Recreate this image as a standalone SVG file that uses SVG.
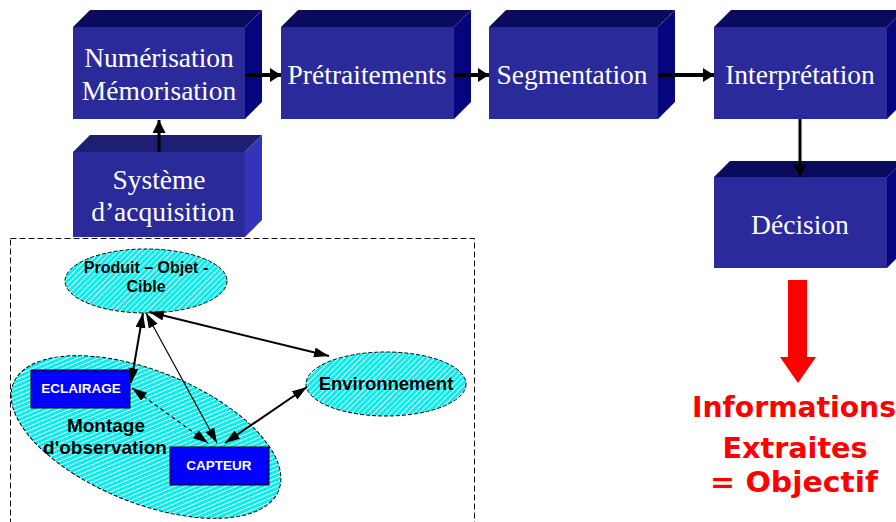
<svg xmlns="http://www.w3.org/2000/svg" width="896" height="522" viewBox="0 0 896 522">
<style>
.front{fill:#2a2a9a}
.top{fill:#0b0b5e}
.side{fill:#05057e}
.top2{fill:#1e1e72}
.side2{fill:#3434b8}
.bt{font-family:"Liberation Serif","Times New Roman",serif;font-size:27.5px;fill:#ffffff;text-anchor:middle}
.lbl{font-family:"Liberation Sans",Arial,sans-serif;font-weight:bold;text-anchor:middle;fill:#000}
.wl{font-family:"Liberation Sans",Arial,sans-serif;font-weight:bold;text-anchor:middle;fill:#fff;font-size:13.5px}
.hat{fill:url(#hatch);stroke:#000;stroke-width:1;stroke-dasharray:4 2}
.flow{stroke:#000;stroke-width:4;fill:none;marker-end:url(#hb)}
.vflow{stroke:#000;stroke-width:3;fill:none;marker-end:url(#hv)}
.c{stroke:#000;fill:none;marker-start:url(#ah);marker-end:url(#ah)}
.red{font-family:"Comic Sans MS","DejaVu Sans",sans-serif;font-weight:bold;fill:#ff0000;text-anchor:middle;font-size:28px}
</style>
<defs>
<pattern id="hatch" width="4" height="4" patternUnits="userSpaceOnUse" patternTransform="rotate(45)">
<rect width="4" height="4" fill="#00f0f0"/>
<line x1="0" y1="0" x2="0" y2="4" stroke="#ffffff" stroke-width="2"/>
</pattern>
<marker id="hb" markerUnits="userSpaceOnUse" markerWidth="12" markerHeight="14" refX="11" refY="7" orient="auto">
<path d="M0,0 L11,7 L0,14 z" fill="#000"/>
</marker>
<marker id="hv" markerUnits="userSpaceOnUse" markerWidth="14" markerHeight="14" refX="13" refY="6.5" orient="auto">
<path d="M0,0 L13,6.5 L0,13 z" fill="#000"/>
</marker>
<marker id="ah" markerUnits="userSpaceOnUse" markerWidth="16" markerHeight="12" refX="15" refY="5" orient="auto-start-reverse">
<path d="M0,0 L15,5 L0,10 z" fill="#000"/>
</marker>
</defs>
<rect width="896" height="522" fill="#ffffff"/>

<g id="numerisation">
<rect class="front" x="73" y="27" width="172" height="92"/>
<polygon class="top" points="73,27 90,10 262,10 245,27"/>
<polygon class="side" points="245,27 262,10 262,102 245,119"/>
<text class="bt" x="159" y="67">Numérisation</text>
<text class="bt" x="159" y="100">Mémorisation</text>
</g>
<g id="pretraitements">
<rect class="front" x="281" y="27" width="173" height="92"/>
<polygon class="top" points="281,27 298,10 471,10 454,27"/>
<polygon class="side" points="454,27 471,10 471,102 454,119"/>
<text class="bt" x="367" y="84">Prétraitements</text>
</g>
<g id="segmentation">
<rect class="front" x="489" y="27" width="169" height="92"/>
<polygon class="top" points="489,27 506,10 675,10 658,27"/>
<polygon class="side" points="658,27 675,10 675,102 658,119"/>
<text class="bt" x="572" y="84">Segmentation</text>
</g>
<g id="interpretation">
<rect class="front" x="714" y="27" width="173" height="92"/>
<polygon class="top" points="714,27 731,10 904,10 887,27"/>
<polygon class="side" points="887,27 904,10 904,102 887,119"/>
<text class="bt" x="800" y="84">Interprétation</text>
</g>
<g id="decision">
<rect class="front" x="714" y="177" width="173" height="91"/>
<polygon class="top" points="714,177 730,161 904,161 887,177"/>
<polygon class="side" points="887,177 904,161 904,251 887,268"/>
<text class="bt" x="800" y="234">Décision</text>
</g>
<g id="systeme">
<rect class="front" x="73" y="152" width="172" height="85"/>
<polygon class="top2" points="73,152 90,135 262,135 245,152"/>
<polygon class="side2" points="245,152 262,135 262,220 245,237"/>
<text class="bt" x="159" y="189">Système</text>
<text class="bt" x="163" y="221">d’acquisition</text>
</g>

<g id="flow-connectors">
<line class="flow" x1="245" y1="75" x2="281" y2="75"/>
<line class="flow" x1="454" y1="75" x2="489" y2="75"/>
<line class="flow" x1="658" y1="75" x2="714" y2="75"/>
<line class="vflow" x1="159" y1="152" x2="159" y2="120"/>
<line class="vflow" x1="800" y1="119" x2="800" y2="177"/>
</g>

<g id="scene-frame">
<rect x="10.5" y="238.5" width="464" height="300" fill="none" stroke="#111" stroke-width="1" stroke-dasharray="6 3"/>
</g>

<g id="montage">
<ellipse class="hat" cx="0" cy="0" rx="143" ry="66" transform="translate(146 437) rotate(22)"/>
<text class="lbl" x="106" y="432" font-size="19">Montage</text>
<text class="lbl" x="105" y="454" font-size="19">d'observation</text>
</g>
<g id="produit">
<ellipse class="hat" cx="146" cy="281" rx="81" ry="32"/>
<text class="lbl" x="146" y="273" font-size="16">Produit – Objet -</text>
<text class="lbl" x="146" y="292" font-size="16">Cible</text>
</g>
<g id="environnement">
<ellipse class="hat" cx="386" cy="384" rx="80" ry="32"/>
<text class="lbl" x="386" y="390" font-size="18.5">Environnement</text>
</g>
<g id="eclairage">
<rect x="31" y="370" width="99" height="38" fill="#0000ff" stroke="#000" stroke-width="1"/>
<text class="wl" x="81" y="393">ECLAIRAGE</text>
</g>
<g id="capteur">
<rect x="170" y="447" width="99" height="38" fill="#0000ff" stroke="#000" stroke-width="1"/>
<text class="wl" x="219" y="470">CAPTEUR</text>
</g>

<g id="scene-connectors">
<line class="c" x1="143" y1="313" x2="131" y2="383" stroke-width="2"/>
<line class="c" x1="146" y1="313" x2="217" y2="443" stroke-width="1.2"/>
<line class="c" x1="149" y1="312" x2="329" y2="356" stroke-width="2"/>
<line class="c" x1="132" y1="388" x2="208" y2="443" stroke-width="1.2" stroke-dasharray="4 3"/>
<line class="c" x1="225" y1="443" x2="307" y2="387" stroke-width="2"/>
</g>

<g id="result">
<polygon points="788,280 807,280 807,357 816,357 798,383 780,357 788,357" fill="#ff0000"/>
<text class="red" x="794" y="417" textLength="204" lengthAdjust="spacingAndGlyphs">Informations</text>
<text class="red" x="795" y="458" textLength="145" lengthAdjust="spacingAndGlyphs">Extraites</text>
<text class="red" x="794" y="492" textLength="168" lengthAdjust="spacingAndGlyphs">= Objectif</text>
</g>
</svg>
